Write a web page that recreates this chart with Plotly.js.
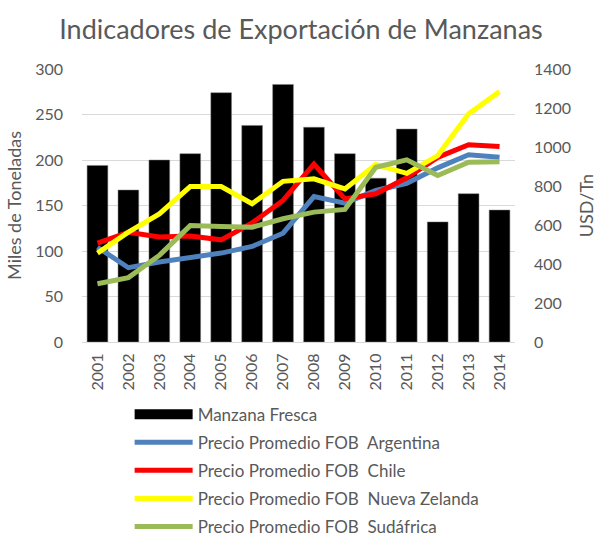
<!DOCTYPE html>
<html>
<head>
<meta charset="utf-8">
<script src="https://cdn.plot.ly/plotly-3.0.1.min.js"></script>
<style>
    html, body { margin: 0; padding: 0; background: #ffffff; }
    #chart { width: 602px; height: 538px; }
</style>
</head>
<body>
<div id="chart"></div>
<script>
// Years (categories)
const years = ['2001', '2002', '2003', '2004', '2005', '2006', '2007',
               '2008', '2009', '2010', '2011', '2012', '2013', '2014'];

// Fresh apple exports, thousand tonnes (left axis)
const manzanaFresca = [194, 167, 200, 207, 274, 238, 283, 236, 207, 180, 234, 132, 163, 145];

// Average FOB price, USD/Tn (right axis)
const fobArgentina = [486, 381, 410, 435, 456, 490, 558, 746, 712, 777, 814, 893, 960, 947];
const fobChile = [507, 563, 538, 543, 524, 611, 726, 913, 734, 760, 842, 947, 1012, 1002];
const fobNuevaZelanda = [456, 563, 657, 797, 797, 709, 824, 837, 785, 910, 865, 956, 1170, 1284];
const fobSudafrica = [299, 330, 444, 597, 592, 589, 632, 666, 680, 896, 934, 854, 922, 925];

const gray = '#595959';
const fontFamily = 'Lato, "Open Sans", sans-serif';

function lineTrace(name, values, color) {
    return {
        x: years,
        y: values,
        type: 'scatter',
        mode: 'lines',
        name: name,
        legendgroup: name,
        yaxis: 'y2',
        line: { color: color, width: 5 }
    };
}

const traces = [
    {
        x: years,
        y: manzanaFresca,
        type: 'bar',
        name: 'Manzana Fresca',
        legendgroup: 'bar',
        showlegend: false,
        marker: { color: '#000000', line: { color: '#7f7f7f', width: 0.5 } }
    },
    // legend entry for the bars: Excel draws it as a wide black rectangle
    {
        x: [years[0]],
        y: [null],
        type: 'scatter',
        mode: 'lines',
        name: 'Manzana Fresca',
        legendgroup: 'bar',
        hoverinfo: 'skip',
        line: { color: '#000000', width: 10 }
    },
    lineTrace('Precio Promedio FOB  Argentina', fobArgentina, '#4f81bd'),
    lineTrace('Precio Promedio FOB  Chile', fobChile, '#ff0000'),
    lineTrace('Precio Promedio FOB  Nueva Zelanda', fobNuevaZelanda, '#ffff00'),
    lineTrace('Precio Promedio FOB  Sudáfrica', fobSudafrica, '#9bbb59')
];

const layout = {
    width: 602,
    height: 538,
    margin: { l: 82, r: 87, t: 69, b: 196, autoexpand: false },
    paper_bgcolor: '#ffffff',
    plot_bgcolor: '#ffffff',
    font: { family: fontFamily, color: gray, size: 16 },
    title: {
        text: 'Indicadores de Exportación de Manzanas',
        font: { size: 27, color: gray, family: fontFamily },
        x: 0.5,
        xanchor: 'center',
        y: 0.945,
        yanchor: 'middle'
    },
    bargap: 0.33,
    showlegend: true,
    legend: {
        orientation: 'v',
        x: 0.11,
        xanchor: 'left',
        y: -0.2,
        yanchor: 'top',
        itemwidth: 58,
        tracegroupgap: 3,
        font: { size: 17, color: gray, family: fontFamily },
        bgcolor: 'rgba(0,0,0,0)'
    },
    xaxis: {
        type: 'category',
        tickangle: -90,
        showgrid: false,
        showline: true,
        linecolor: '#d9d9d9',
        linewidth: 1,
        ticks: '',
        ticklabelstandoff: 4,
        tickfont: { size: 16, color: gray },
        fixedrange: true
    },
    yaxis: {
        range: [0, 300],
        dtick: 50,
        showgrid: true,
        gridcolor: '#d9d9d9',
        gridwidth: 1,
        zeroline: false,
        showline: false,
        ticks: '',
        ticklabelstandoff: 18,
        tickfont: { size: 16, color: gray },
        title: { text: 'Miles de Toneladas', font: { size: 18, color: gray }, standoff: 8 }
    },
    yaxis2: {
        range: [0, 1400],
        dtick: 200,
        overlaying: 'y',
        side: 'right',
        showgrid: false,
        zeroline: false,
        showline: false,
        ticks: '',
        ticklabelstandoff: 18,
        tickfont: { size: 16, color: gray },
        title: { text: 'USD/Tn', font: { size: 18, color: gray }, standoff: 10 }
    }
};

Plotly.newPlot('chart', traces, layout, { displayModeBar: false, staticPlot: true });
</script>
</body>
</html>
